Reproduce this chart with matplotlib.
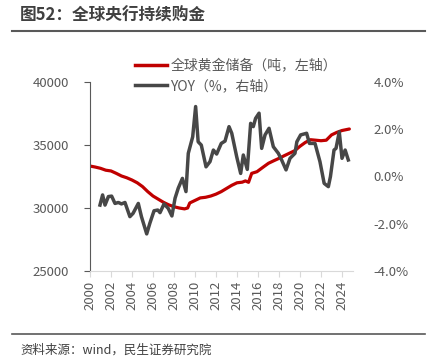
import matplotlib
matplotlib.use("Agg")
import matplotlib.pyplot as plt
from matplotlib.lines import Line2D
from matplotlib.ticker import FuncFormatter

plt.rcParams['font.family'] = ['Noto Sans CJK SC', 'DejaVu Sans']

# global central bank gold reserves (tonnes, left axis)
reserve_years = [2000.0, 2000.5, 2001.0, 2001.5, 2002.0, 2002.5, 2003.0, 2003.5,
                 2004.0, 2004.5, 2005.0, 2005.5, 2006.0, 2006.5, 2007.0, 2007.5,
                 2008.0, 2008.5, 2009.0, 2009.3, 2009.5, 2010.0, 2010.5, 2011.0,
                 2011.5, 2012.0, 2012.5, 2013.0, 2013.5, 2014.0, 2014.5, 2014.8,
                 2015.1, 2015.4, 2015.9, 2016.5, 2017.0, 2017.5, 2018.0, 2018.5,
                 2019.0, 2019.5, 2020.0, 2020.5, 2021.0, 2021.5, 2022.0, 2022.5,
                 2023.0, 2023.5, 2024.0, 2024.7]
reserves = [33330, 33250, 33150, 33000, 32940, 32750, 32540, 32400,
            32220, 32000, 31700, 31300, 30950, 30700, 30450, 30250,
            30100, 30000, 29930, 30000, 30400, 30600, 30800, 30850,
            30950, 31100, 31300, 31550, 31800, 32000, 32050, 32150,
            32040, 32750, 32880, 33250, 33550, 33750, 33940, 34150,
            34350, 34550, 34900, 35200, 35420, 35380, 35340, 35380,
            35800, 36000, 36150, 36270]

# YoY change (%, right axis)
yoy_years = [2000.95, 2001.2, 2001.43, 2001.75, 2002.06, 2002.38, 2002.7, 2003.0,
             2003.33, 2003.8, 2004.1, 2004.6, 2004.9, 2005.4, 2005.7, 2006.1,
             2006.45, 2006.67, 2007.05, 2007.45, 2007.8, 2008.1, 2008.4, 2008.8,
             2009.14, 2009.36, 2009.78, 2010.06, 2010.3, 2010.6, 2011.05, 2011.43,
             2011.75, 2012.06, 2012.5, 2012.86, 2013.24, 2013.5, 2013.97, 2014.35,
             2014.6, 2014.98, 2015.3, 2015.55, 2015.77, 2016.1, 2016.35, 2016.67,
             2017.05, 2017.46, 2017.94, 2018.25, 2018.67, 2019.05, 2019.52, 2019.7,
             2020.06, 2020.63, 2020.9, 2021.43, 2021.9, 2022.3, 2022.7, 2022.9,
             2023.24, 2023.43, 2023.74, 2024.0, 2024.3, 2024.6]
yoy = [-1.21, -0.78, -1.21, -0.85, -0.83, -1.14, -1.10, -1.16,
       -1.10, -1.70, -1.56, -1.14, -1.70, -2.43, -1.98, -1.45,
       -1.42, -1.53, -1.16, -1.35, -1.67, -0.92, -0.50, -0.08,
       -0.64, 0.98, 1.68, 2.96, 1.47, 1.33, 0.41, 0.63,
       1.12, 0.95, 1.40, 1.50, 2.11, 1.83, 0.84, 0.13,
       0.91, 0.30, 2.25, 2.11, 2.46, 2.68, 1.19, 1.76,
       2.04, 1.26, 0.98, 0.70, 0.28, 0.77, 0.98, 1.47,
       1.76, 1.83, 1.40, 1.40, 0.63, -0.29, -0.43, 0.00,
       1.12, 1.19, 1.89, 0.77, 1.12, 0.70]

year_ticks = list(range(2000, 2025, 2))
left_ticks = [25000, 30000, 35000, 40000]
right_ticks = [-4, -2, 0, 2, 4]

RED = "#C00000"
GRAY = "#474747"
TXT = "#595959"

fig = plt.figure(figsize=(4.31, 3.64), dpi=100)
ax = fig.add_axes([90 / 431, 1 - 271 / 364, 262.5 / 431, 189 / 364])
ax2 = ax.twinx()

ax.plot(reserve_years, reserves, color=RED, lw=2.3, solid_capstyle='round')
ax2.plot(yoy_years, yoy, color=GRAY, lw=2.5, solid_joinstyle='round')

ax.set_xlim(2000, 2025)
ax.set_ylim(25000, 40000)
ax2.set_ylim(-4, 4)
ax.set_xticks(year_ticks)
ax.set_xticklabels([str(y) for y in year_ticks], rotation=90)
ax.set_yticks(left_ticks)
ax2.set_yticks(right_ticks)
ax2.yaxis.set_major_formatter(FuncFormatter(lambda v, p: f"{v:.1f}%"))

for a in (ax, ax2):
    for s in ('top', 'right'):
        a.spines[s].set_visible(False)
ax2.spines['left'].set_visible(False)
ax2.spines['bottom'].set_visible(False)
ax.spines['left'].set_color("#595959")
ax.spines['bottom'].set_color("#d9d9d9")

ax.tick_params(axis='y', colors="#595959", labelcolor=TXT, labelsize=9.5,
               length=4, pad=11)
ax.tick_params(axis='x', colors="#d9d9d9", labelcolor=TXT, labelsize=9.5,
               length=4, pad=3)
ax2.tick_params(axis='y', length=0, labelcolor=TXT, labelsize=9.5, pad=15)

handles = [Line2D([], [], color=RED, lw=2.5), Line2D([], [], color=GRAY, lw=2.5)]
labels = ["全球黄金储备（吨，左轴）", "YOY（%，右轴）"]
fig.legend(handles, labels, loc='upper left', bbox_to_anchor=(128 / 431, 1 - 52 / 364),
           frameon=False, fontsize=10, handlelength=2.3, handletextpad=0.25,
           labelspacing=0.45, borderpad=0, labelcolor=TXT)

fig.text(20 / 431, 1 - 16 / 364, "图52：全球央行持续购金", fontsize=12,
         fontweight='bold', color="#404040", va='center', ha='left')
fig.add_artist(Line2D([12 / 431, 425 / 431], [1 - 31 / 364] * 2, color="#595959", lw=1.5))
fig.add_artist(Line2D([12 / 431, 425 / 431], [1 - 334 / 364] * 2, color="#595959", lw=1.2))
fig.text(20 / 431, 1 - 350 / 364, "资料来源：wind，民生证券研究院", fontsize=9,
         color="#404040", va='center', ha='left')

fig.savefig("out.png", dpi=100)
